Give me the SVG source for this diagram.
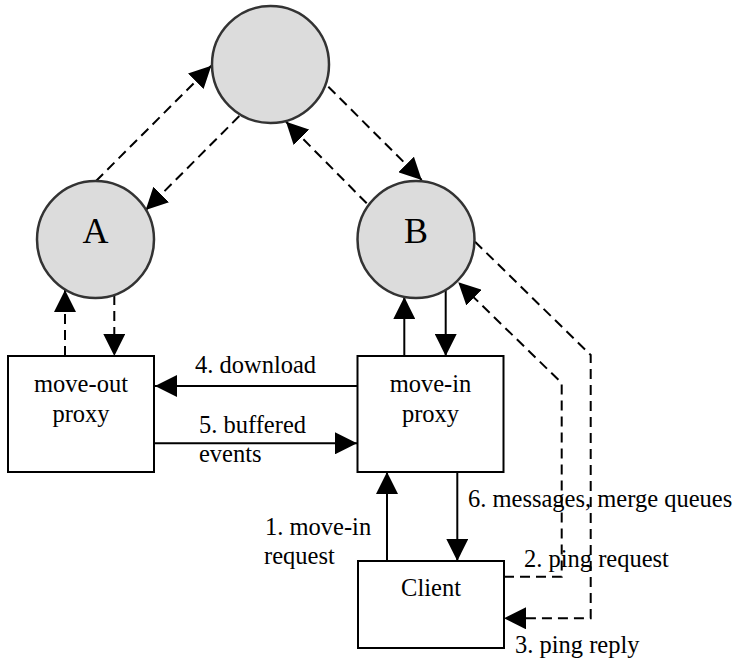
<svg xmlns="http://www.w3.org/2000/svg" width="736" height="663" viewBox="0 0 736 663">
  <defs>
    <marker id="arrow" markerUnits="userSpaceOnUse" markerWidth="22" markerHeight="22" viewBox="0 0 22 22" refX="22" refY="11" orient="auto">
      <path d="M0,0 L22,11 L0,22 Z" fill="#000"/>
    </marker>
    <style>
      .peer { fill: #dcdcdc; stroke: #333; stroke-width: 2.5; }
      .box { fill: #fff; stroke: #000; stroke-width: 2; }
      .edge { fill: none; stroke: #000; stroke-width: 2; marker-end: url(#arrow); }
      .dash { stroke-dasharray: 10 6; }
      text { font-family: "Liberation Serif", "Times New Roman", serif; font-size: 24.5px; fill: #000; }
      .big { font-size: 36px; }
      .mid { text-anchor: middle; }
    </style>
  </defs>

  <rect width="736" height="663" fill="#fff"/>

  <!-- connectors -->
  <g id="connectors">
    <!-- overlay links between peers -->
    <path class="edge dash" d="M96,181 L211.3,65.7"/>
    <path class="edge dash" d="M239.3,116 L145.7,210"/>
    <path class="edge dash" d="M328.3,86.7 L421.7,180"/>
    <path class="edge dash" d="M366.7,203.3 L286,121.7"/>
    <!-- peers to proxies -->
    <path class="edge dash" d="M65,356 L65,290"/>
    <path class="edge dash" d="M114.3,295 L114.3,356"/>
    <path class="edge" d="M404.3,356 L404.3,297"/>
    <path class="edge" d="M445.7,289.7 L445.7,356"/>
    <!-- proxy exchange -->
    <path class="edge" d="M357,386 L155,386"/>
    <path class="edge" d="M154,443.3 L357,443.3"/>
    <!-- client and move-in proxy -->
    <path class="edge" d="M387,561 L387,472"/>
    <path class="edge" d="M457.3,472 L457.3,561"/>
    <!-- ping request / reply -->
    <path class="edge dash" d="M504,576.7 L561.7,576.7 L561.7,383 L458.3,282.3"/>
    <path class="edge dash" d="M475,241.7 L590.7,355 L590.7,618.3 L504,618.3"/>
  </g>

  <!-- nodes -->
  <g id="peer-top">
    <circle class="peer" cx="270.5" cy="64.5" r="58.5"/>
  </g>
  <g id="peer-a">
    <circle class="peer" cx="95.5" cy="239.5" r="58.5"/>
    <text class="big mid" x="95.5" y="243">A</text>
  </g>
  <g id="peer-b">
    <circle class="peer" cx="416" cy="239.5" r="58.5"/>
    <text class="big mid" x="416" y="243">B</text>
  </g>
  <g id="move-out-proxy">
    <rect class="box" x="8" y="356" width="146" height="116"/>
    <text class="mid" x="81" y="392">move-out</text>
    <text class="mid" x="81" y="422">proxy</text>
  </g>
  <g id="move-in-proxy">
    <rect class="box" x="357.5" y="356" width="146" height="116"/>
    <text class="mid" x="430.5" y="392">move-in</text>
    <text class="mid" x="430.5" y="422">proxy</text>
  </g>
  <g id="client">
    <rect class="box" x="358" y="561" width="146" height="87"/>
    <text class="mid" x="431" y="596">Client</text>
  </g>

  <!-- connector labels -->
  <g id="labels">
    <text x="195" y="373">4. download</text>
    <text x="199" y="433">5. buffered</text>
    <text x="199" y="462">events</text>
    <text x="265" y="535">1. move-in</text>
    <text x="264" y="564">request</text>
    <text x="468" y="507">6. messages, merge queues</text>
    <text x="524" y="567">2. ping request</text>
    <text x="515" y="653">3. ping reply</text>
  </g>
</svg>
